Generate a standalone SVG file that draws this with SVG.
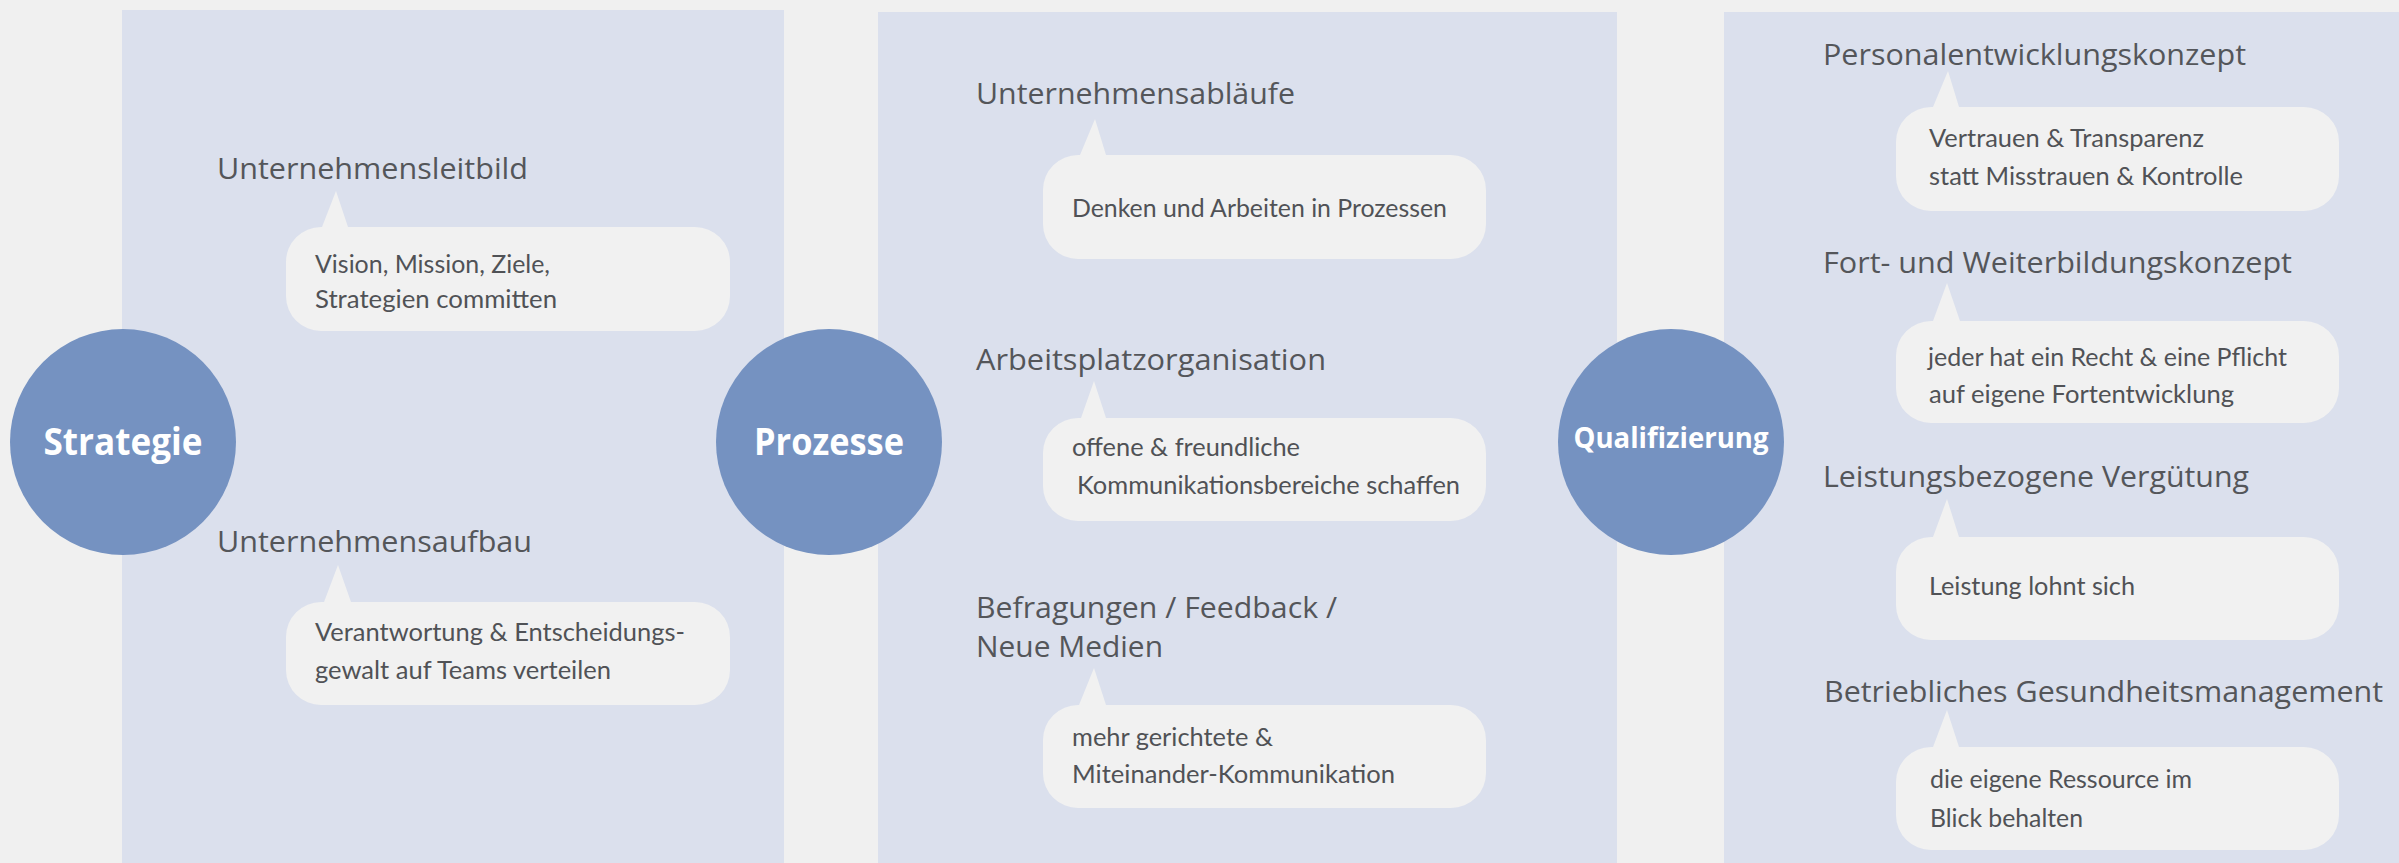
<svg xmlns="http://www.w3.org/2000/svg" width="2399" height="863" viewBox="0 0 2399 863">
  <style>
    .bg { fill: #f0f0f0; }
    .panel { fill: #dbe0ed; }
    .hub { fill: #7592c1; }
    .hub-label { font-family: "Open Sans", "Noto Sans", sans-serif; font-weight: 700; fill: #ffffff; text-anchor: middle; }
    .head { font-family: "Open Sans", "Noto Sans", sans-serif; font-size: 29px; fill: #54565a; }
    .bubble { fill: #f1f1f1; }
    .note { font-family: Lato, "Open Sans", sans-serif; font-size: 25px; fill: #505256; }
  </style>

  <!-- background and the three column panels -->
  <rect class="bg" x="0" y="0" width="2399" height="863"/>
  <g id="panels">
    <rect class="panel" x="122" y="10" width="662" height="853"/>
    <rect class="panel" x="878" y="12" width="739" height="851"/>
    <rect class="panel" x="1724" y="12" width="675" height="851"/>
  </g>

  <!-- column 1: Strategie -->
  <g id="hub-strategie">
    <circle class="hub" cx="123" cy="442" r="113"/>
    <text class="hub-label" x="123" y="455" font-size="38" textLength="159" lengthAdjust="spacingAndGlyphs">Strategie</text>
  </g>
  <g id="leitbild">
    <text class="head" x="217" y="179" textLength="311" lengthAdjust="spacingAndGlyphs">Unternehmensleitbild</text>
    <path class="bubble" d="M321,227 L322,227 L336,191 L348,227 L695,227 A35,35 0 0 1 730,262 L730,296 A35,35 0 0 1 695,331 L321,331 A35,35 0 0 1 286,296 L286,262 A35,35 0 0 1 321,227 Z"/>
    <text class="note" x="315" y="273" textLength="235" lengthAdjust="spacingAndGlyphs">Vision, Mission, Ziele,</text>
    <text class="note" x="315" y="308" textLength="242" lengthAdjust="spacingAndGlyphs">Strategien committen</text>
  </g>
  <g id="aufbau">
    <text class="head" x="217" y="552" textLength="315" lengthAdjust="spacingAndGlyphs">Unternehmensaufbau</text>
    <path class="bubble" d="M321,602 L324,602 L338,565 L351,602 L695,602 A35,35 0 0 1 730,637 L730,670 A35,35 0 0 1 695,705 L321,705 A35,35 0 0 1 286,670 L286,637 A35,35 0 0 1 321,602 Z"/>
    <text class="note" x="315" y="641" textLength="370" lengthAdjust="spacingAndGlyphs">Verantwortung &amp; Entscheidungs-</text>
    <text class="note" x="315" y="679" textLength="296" lengthAdjust="spacingAndGlyphs">gewalt auf Teams verteilen</text>
  </g>

  <!-- column 2: Prozesse -->
  <g id="hub-prozesse">
    <circle class="hub" cx="829" cy="442" r="113"/>
    <text class="hub-label" x="829" y="455" font-size="38" textLength="150" lengthAdjust="spacingAndGlyphs">Prozesse</text>
  </g>
  <g id="ablaeufe">
    <text class="head" x="976" y="104" textLength="319" lengthAdjust="spacingAndGlyphs">Unternehmensabläufe</text>
    <path class="bubble" d="M1078,155 L1080,155 L1095,119 L1106,155 L1451,155 A35,35 0 0 1 1486,190 L1486,224 A35,35 0 0 1 1451,259 L1078,259 A35,35 0 0 1 1043,224 L1043,190 A35,35 0 0 1 1078,155 Z"/>
    <text class="note" x="1072" y="217" textLength="375" lengthAdjust="spacingAndGlyphs">Denken und Arbeiten in Prozessen</text>
  </g>
  <g id="arbeitsplatz">
    <text class="head" x="976" y="370" textLength="350" lengthAdjust="spacingAndGlyphs">Arbeitsplatzorganisation</text>
    <path class="bubble" d="M1078,418 L1081,418 L1094,381 L1106,418 L1451,418 A35,35 0 0 1 1486,453 L1486,486 A35,35 0 0 1 1451,521 L1078,521 A35,35 0 0 1 1043,486 L1043,453 A35,35 0 0 1 1078,418 Z"/>
    <text class="note" x="1072" y="456" textLength="228" lengthAdjust="spacingAndGlyphs">offene &amp; freundliche</text>
    <text class="note" x="1077" y="494" textLength="383" lengthAdjust="spacingAndGlyphs">Kommunikationsbereiche schaffen</text>
  </g>
  <g id="befragungen">
    <text class="head" x="976" y="618" textLength="361" lengthAdjust="spacingAndGlyphs">Befragungen / Feedback /</text>
    <text class="head" x="976" y="657" textLength="187" lengthAdjust="spacingAndGlyphs">Neue Medien</text>
    <path class="bubble" d="M1078,705 L1079,705 L1094,668 L1106,705 L1451,705 A35,35 0 0 1 1486,740 L1486,773 A35,35 0 0 1 1451,808 L1078,808 A35,35 0 0 1 1043,773 L1043,740 A35,35 0 0 1 1078,705 Z"/>
    <text class="note" x="1072" y="746" textLength="201" lengthAdjust="spacingAndGlyphs">mehr gerichtete &amp;</text>
    <text class="note" x="1072" y="783" textLength="323" lengthAdjust="spacingAndGlyphs">Miteinander-Kommunikation</text>
  </g>

  <!-- column 3: Qualifizierung -->
  <g id="hub-qualifizierung">
    <circle class="hub" cx="1671" cy="442" r="113"/>
    <text class="hub-label" x="1671" y="448" font-size="29" textLength="195" lengthAdjust="spacingAndGlyphs">Qualifizierung</text>
  </g>
  <g id="personalentwicklung">
    <text class="head" x="1823" y="65" textLength="423" lengthAdjust="spacingAndGlyphs">Personalentwicklungskonzept</text>
    <path class="bubble" d="M1931,107 L1933,107 L1948,71 L1959,107 L2304,107 A35,35 0 0 1 2339,142 L2339,176 A35,35 0 0 1 2304,211 L1931,211 A35,35 0 0 1 1896,176 L1896,142 A35,35 0 0 1 1931,107 Z"/>
    <text class="note" x="1929" y="147" textLength="275" lengthAdjust="spacingAndGlyphs">Vertrauen &amp; Transparenz</text>
    <text class="note" x="1929" y="185" textLength="314" lengthAdjust="spacingAndGlyphs">statt Misstrauen &amp; Kontrolle</text>
  </g>
  <g id="weiterbildung">
    <text class="head" x="1823" y="273" textLength="469" lengthAdjust="spacingAndGlyphs">Fort- und Weiterbildungskonzept</text>
    <path class="bubble" d="M1931,321 L1933,321 L1947,283 L1960,321 L2304,321 A35,35 0 0 1 2339,356 L2339,388 A35,35 0 0 1 2304,423 L1931,423 A35,35 0 0 1 1896,388 L1896,356 A35,35 0 0 1 1931,321 Z"/>
    <text class="note" x="1928" y="366" textLength="359" lengthAdjust="spacingAndGlyphs">jeder hat ein Recht &amp; eine Pflicht</text>
    <text class="note" x="1929" y="403" textLength="305" lengthAdjust="spacingAndGlyphs">auf eigene Fortentwicklung</text>
  </g>
  <g id="verguetung">
    <text class="head" x="1823" y="487" textLength="426" lengthAdjust="spacingAndGlyphs">Leistungsbezogene Vergütung</text>
    <path class="bubble" d="M1931,537 L1933,537 L1947,499 L1959,537 L2304,537 A35,35 0 0 1 2339,572 L2339,605 A35,35 0 0 1 2304,640 L1931,640 A35,35 0 0 1 1896,605 L1896,572 A35,35 0 0 1 1931,537 Z"/>
    <text class="note" x="1929" y="595" textLength="206" lengthAdjust="spacingAndGlyphs">Leistung lohnt sich</text>
  </g>
  <g id="gesundheit">
    <text class="head" x="1824" y="702" textLength="559" lengthAdjust="spacingAndGlyphs">Betriebliches Gesundheitsmanagement</text>
    <path class="bubble" d="M1931,747 L1933,747 L1947,710 L1959,747 L2304,747 A35,35 0 0 1 2339,782 L2339,815 A35,35 0 0 1 2304,850 L1931,850 A35,35 0 0 1 1896,815 L1896,782 A35,35 0 0 1 1931,747 Z"/>
    <text class="note" x="1930" y="788" textLength="262" lengthAdjust="spacingAndGlyphs">die eigene Ressource im</text>
    <text class="note" x="1930" y="827" textLength="153" lengthAdjust="spacingAndGlyphs">Blick behalten</text>
  </g>
</svg>
